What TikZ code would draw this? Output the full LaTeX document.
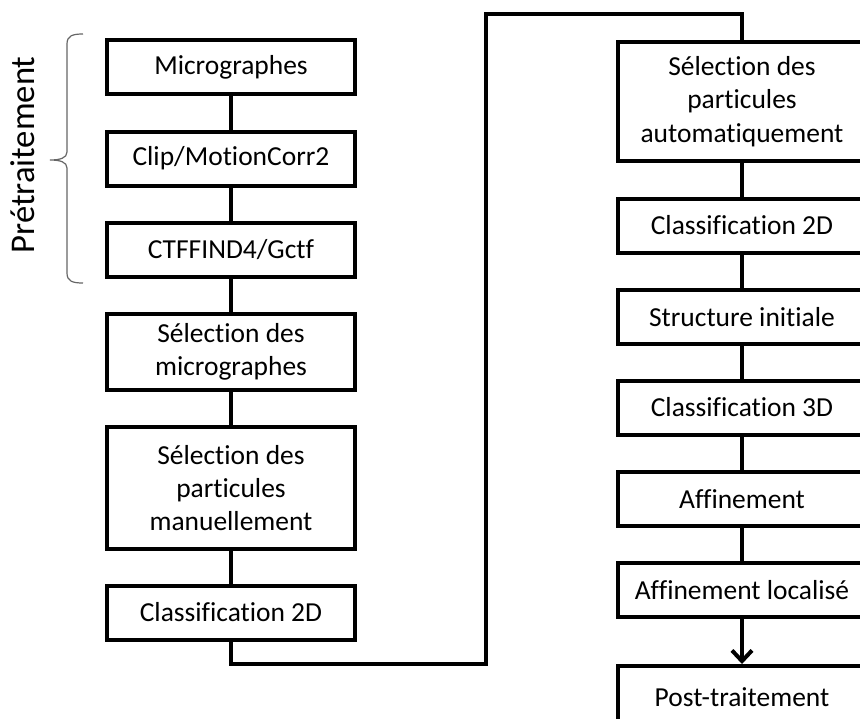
\documentclass[tikz,border=0pt]{standalone}
\usepackage{fontspec}
\setmainfont{Carlito}[RawFeature={-liga}]
\usetikzlibrary{arrows.meta}
\begin{document}
\begin{tikzpicture}[x=0.75pt,y=-0.75pt,
  box/.style={draw=black,line width=3pt,minimum width=186pt,align=center,inner sep=0pt,
    font=\fontsize{20.6}{25}\selectfont,text=black},
  one/.style={minimum height=40.5pt},
  two/.style={minimum height=57pt},
  link/.style={draw=black,line width=3pt},
  bracecol/.style={draw=black!60,line width=0.9pt}
]
\useasboundingbox (0,0) rectangle (860,718);
\fill[white] (0,0) rectangle (860,718);
\clip (0,0) rectangle (860,718);
% left column
\node[box,one] (m) at (231,67) {Micrographes};
\node[box,one] (clip) at (231,158.5) {Clip/MotionCorr2};
\node[box,one] (ctf) at (231,249.5) {CTFFIND4/Gctf};
\node[box,two] (selm) at (231,352) {Sélection des\\micrographes};
\node[box,minimum height=91.5pt] (selp) at (231,488) {Sélection des\\particules\\manuellement};
\node[box,one] (cla) at (231,612.5) {Classification 2D};
% right column
\node[box,minimum height=89.25pt] (sela) at (742,101.5) {Sélection des\\particules\\automatiquement};
\node[box,one] (clb) at (742,225.5) {Classification 2D};
\node[box,one] (str) at (742,317) {Structure initiale};
\node[box,one] (cl3) at (742,407.5) {Classification 3D};
\node[box,one] (aff) at (742,499) {Affinement};
\node[box,one] (affl) at (742,590) {Affinement localisé};
\node[box,minimum height=46.5pt] (post) at (742,697) {Post-traitement};
% connectors
\draw[link] (m) -- (clip);
\draw[link] (clip) -- (ctf);
\draw[link] (ctf) -- (selm);
\draw[link] (selm) -- (selp);
\draw[link] (selp) -- (cla);
\coordinate (c1) at (231,664);
\coordinate (c2) at (486,664);
\coordinate (c3) at (486,14);
\coordinate (c4) at (742,14);
\draw[link] (cla.south) -- (c1) -- (c2) -- (c3) -- (c4) -- (sela.north);
\draw[link] (sela) -- (clb);
\draw[link] (clb) -- (str);
\draw[link] (str) -- (cl3);
\draw[link] (cl3) -- (aff);
\draw[link] (aff) -- (affl);
\draw[link,-{Straight Barb[length=8pt,width=15pt]}] (affl.south) -- (post.north);
% brace
\coordinate (b1) at (83,34);
\coordinate (b2) at (83,283);
\coordinate (bt) at (50,160);
\draw[bracecol] (b1) .. controls (72,34) and (67,36) .. (67,44) -- (67,152)
  .. controls (67,158) and (60,160) .. (bt)
  .. controls (60,160) and (67,162) .. (67,168) -- (67,273)
  .. controls (67,281) and (72,283) .. (b2);
\node[rotate=90,font=\fontsize{26}{30}\selectfont,text=black,inner sep=0pt] (pre) at (23,155) {Prétraitement};
\end{tikzpicture}
\end{document}
